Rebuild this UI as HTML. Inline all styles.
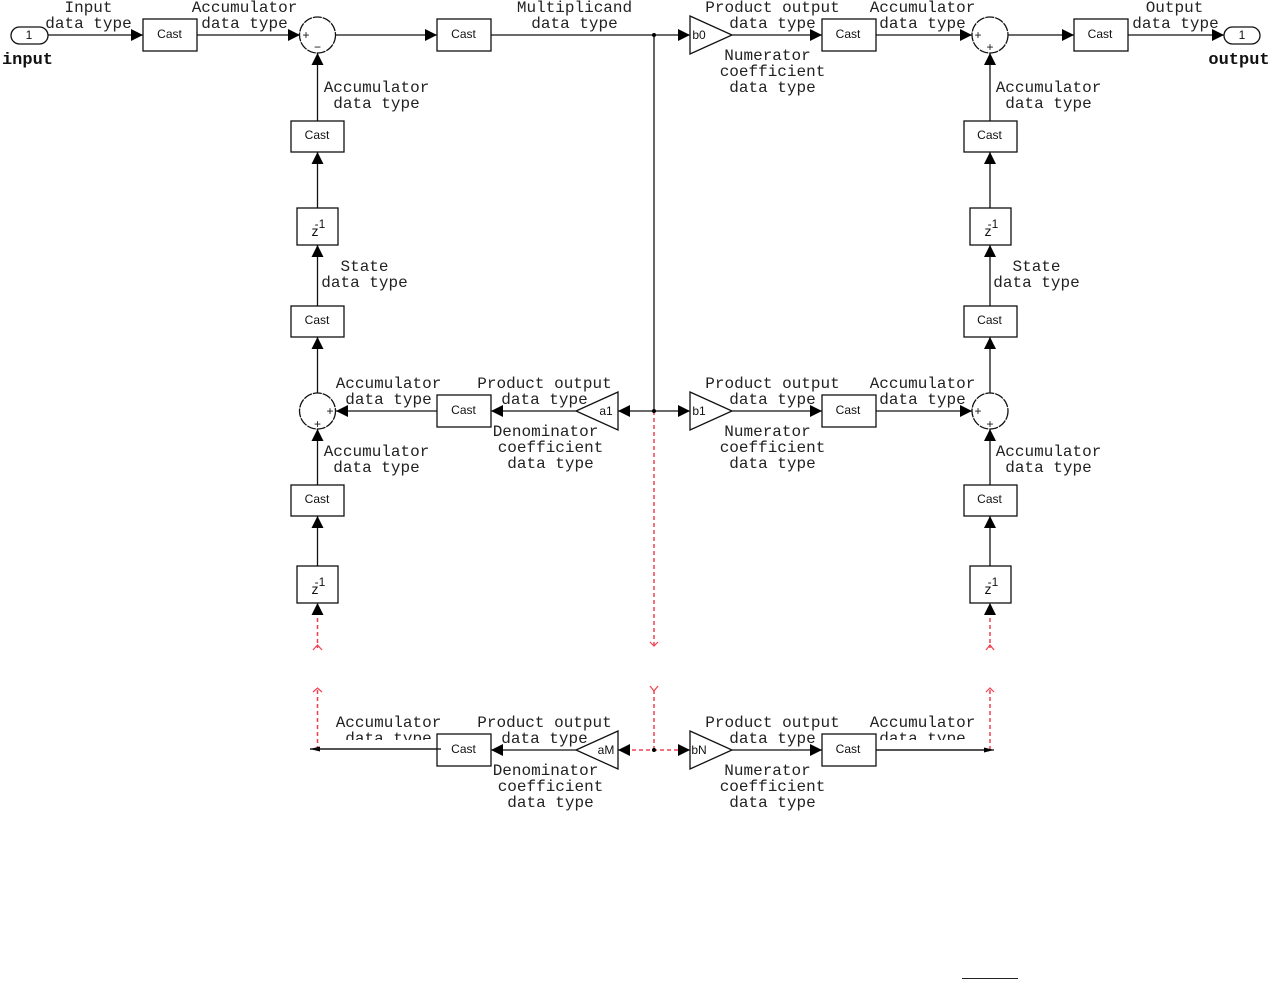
<!DOCTYPE html>
<html><head><meta charset="utf-8">
<style>
html,body{margin:0;padding:0;background:#fff;}
svg{display:block;}
.t text{font-family:"Liberation Mono",monospace;font-size:16px;fill:#222;text-anchor:middle;}
.b text{font-family:"Liberation Mono",monospace;font-size:17px;font-weight:bold;fill:#111;text-anchor:middle;}
.s text{font-family:"Liberation Sans",sans-serif;font-size:12px;fill:#111;text-anchor:middle;}
.s text.z{font-size:14px;}
.l{stroke:#111;stroke-width:1.3;fill:none;}
.box{stroke:#111;stroke-width:1.3;fill:#fff;}
.a{fill:#000;stroke:none;}
.r{stroke:#f04050;stroke-width:1.5;fill:none;stroke-dasharray:4 3;}
.rs{stroke:#f04050;stroke-width:1.2;fill:none;}
</style></head>
<body>
<svg width="1273" height="983" viewBox="0 0 1273 983" xmlns="http://www.w3.org/2000/svg">
<rect width="1273" height="983" fill="#fff"/>

<!-- Red dashed -->
<path class="r" d="M654 411V645M654 690V750M618 750H690M317.500 604V648M317.500 690V750M990 604V648M990 690V750"/>
<path class="rs" d="M650 642L654 646L658 642M650 686L654 691L658 686M313 650L317.500 645L322 650M313 692L317.500 688L322 692M986 650L990 645L994 650M986 692L990 688L994 692"/>

<!-- Black lines -->
<path class="l" d="M48 35H143M197 35H300M336 35H437M491 35H690M732 35H822M876 35H972M1008 35H1074M1128 35H1224"/>
<path class="l" d="M654 35V411M618 411H690M576 411H491M437 411H336M732 411H822M876 411H972"/>
<path class="l" d="M317.500 53V121M317.500 152V208M317.500 245V306M317.500 337V393M317.500 429V485M317.500 516V566"/>
<path class="l" d="M990 53V121M990 152V208M990 245V306M990 337V393M990 429V485M990 516V566"/>
<path class="l" d="M576 750H491M437 749H310M732 750H822M876 750H994"/>

<!-- Arrowheads -->
<path class="a" d="M131 29L143 35L131 41Z M288 29L300 35L288 41Z M425 29L437 35L425 41Z M678 29L690 35L678 41Z M810 29L822 35L810 41Z M960 29L972 35L960 41Z M1062 29L1074 35L1062 41Z M1212 29L1224 35L1212 41Z"/>
<path class="a" d="M630 405L618 411L630 417Z M503 405L491 411L503 417Z M348 405L336 411L348 417Z M678 405L690 411L678 417Z M810 405L822 411L810 417Z M960 405L972 411L960 417Z"/>
<path class="a" d="M311.500 65L317.500 53L323.500 65Z M311.500 164L317.500 152L323.500 164Z M311.500 257L317.500 245L323.500 257Z M311.500 349L317.500 337L323.500 349Z M311.500 441L317.500 429L323.500 441Z M311.500 528L317.500 516L323.500 528Z M311.500 615L317.500 603L323.500 615Z"/>
<path class="a" d="M984 65L990 53L996 65Z M984 164L990 152L996 164Z M984 257L990 245L996 257Z M984 349L990 337L996 349Z M984 441L990 429L996 441Z M984 528L990 516L996 528Z M984 615L990 603L996 615Z"/>
<path class="a" d="M630 744L618 750L630 756Z M503 744L491 750L503 756Z M678 744L690 750L678 756Z M810 744L822 750L810 756Z M310 749L320 746.500V751.500Z M994 750L984 747.500V752.500Z"/>
<circle class="a" cx="654" cy="35" r="2"/><circle class="a" cx="654" cy="411" r="2"/><circle class="a" cx="654" cy="750" r="2"/>

<!-- Ports -->
<rect class="box" x="11" y="27" width="37" height="17" rx="8.500"/>
<rect class="box" x="1224" y="27" width="36" height="17" rx="8.500"/>

<!-- Cast boxes -->
<rect class="box" x="143" y="19" width="54" height="32"/>
<rect class="box" x="437" y="19" width="54" height="32"/>
<rect class="box" x="822" y="19" width="54" height="32"/>
<rect class="box" x="1074" y="19" width="54" height="32"/>
<rect class="box" x="291" y="121" width="53" height="31"/>
<rect class="box" x="964" y="121" width="53" height="31"/>
<rect class="box" x="291" y="306" width="53" height="31"/>
<rect class="box" x="964" y="306" width="53" height="31"/>
<rect class="box" x="437" y="395" width="54" height="32"/>
<rect class="box" x="822" y="395" width="54" height="32"/>
<rect class="box" x="291" y="485" width="53" height="31"/>
<rect class="box" x="964" y="485" width="53" height="31"/>
<rect class="box" x="437" y="734" width="54" height="32"/>
<rect class="box" x="822" y="734" width="54" height="32"/>

<!-- Delay boxes -->
<rect class="box" x="297" y="208" width="41" height="37"/>
<rect class="box" x="970" y="208" width="41" height="37"/>
<rect class="box" x="297" y="566" width="41" height="37"/>
<rect class="box" x="970" y="566" width="41" height="37"/>

<!-- Sum circles -->
<circle class="box" cx="317.500" cy="35" r="18" stroke-dasharray="9 1"/>
<circle class="box" cx="990" cy="35" r="18" stroke-dasharray="9 1"/>
<circle class="box" cx="317.500" cy="411" r="18" stroke-dasharray="9 1"/>
<circle class="box" cx="990" cy="411" r="18" stroke-dasharray="9 1"/>

<!-- Gains -->
<path class="box" d="M690 16L732 35L690 54Z"/>
<path class="box" d="M690 392L732 411L690 430Z"/>
<path class="box" d="M690 731L732 750L690 769Z"/>
<path class="box" d="M618 392L576 411L618 430Z"/>
<path class="box" d="M618 731L576 750L618 769Z"/>

<!-- Stub of the line inside the lower-left Cast box -->
<path class="l" d="M437 749H441"/>

<!-- Small text -->
<g class="s">
<text x="29" y="39">1</text><text x="1242" y="39">1</text>
<text x="169.500" y="38">Cast</text><text x="463.500" y="38">Cast</text><text x="848" y="38">Cast</text><text x="1100" y="38">Cast</text>
<text x="317" y="139">Cast</text><text x="989.500" y="139">Cast</text>
<text x="317" y="324">Cast</text><text x="989.500" y="324">Cast</text>
<text x="463.500" y="414">Cast</text><text x="848" y="414">Cast</text>
<text x="317" y="503">Cast</text><text x="989.500" y="503">Cast</text>
<text x="463.500" y="753">Cast</text><text x="848" y="753">Cast</text>
<text x="699" y="39">b0</text><text x="699" y="415">b1</text><text x="699" y="754">bN</text>
<text x="606" y="415">a1</text><text x="606" y="754">aM</text>
<text class="z" x="315" y="236">z</text><text x="320" y="228">-1</text>
<text class="z" x="988" y="236">z</text><text x="993" y="228">-1</text>
<text class="z" x="315" y="594">z</text><text x="320" y="586">-1</text>
<text class="z" x="988" y="594">z</text><text x="993" y="586">-1</text>
<text x="306" y="39">+</text><text x="317.500" y="51">−</text>
<text x="978" y="39">+</text><text x="990" y="51">+</text>
<text x="330" y="415">+</text><text x="317.500" y="428">+</text>
<text x="978" y="415">+</text><text x="990" y="428">+</text>
</g>

<!-- Labels -->
<g class="b"><text x="27.500" y="64">input</text><text x="1239" y="64">output</text></g>
<g class="t" transform="translate(0.5 0)">
<text x="88" y="12">Input</text><text x="88" y="28">data type</text>
<text x="244" y="12">Accumulator</text><text x="244" y="28">data type</text>
<text x="574" y="12">Multiplicand</text><text x="574" y="28">data type</text>
<text x="772" y="12">Product output</text><text x="772" y="28">data type</text>
<text x="767" y="60">Numerator</text><text x="772" y="76">coefficient</text><text x="772" y="92">data type</text>
<text x="922" y="12">Accumulator</text><text x="922" y="28">data type</text>
<text x="1174" y="12">Output</text><text x="1175" y="28">data type</text>
<text x="376" y="92">Accumulator</text><text x="376" y="108">data type</text>
<text x="1048" y="92">Accumulator</text><text x="1048" y="108">data type</text>
<text x="364" y="271">State</text><text x="364" y="287">data type</text>
<text x="1036" y="271">State</text><text x="1036" y="287">data type</text>
<text x="388" y="388">Accumulator</text><text x="388" y="404">data type</text>
<text x="544" y="388">Product output</text><text x="544" y="404">data type</text>
<text x="545" y="436">Denominator</text><text x="550" y="452">coefficient</text><text x="550" y="468">data type</text>
<text x="376" y="456">Accumulator</text><text x="376" y="472">data type</text>
<text x="772" y="388">Product output</text><text x="772" y="404">data type</text>
<text x="767" y="436">Numerator</text><text x="772" y="452">coefficient</text><text x="772" y="468">data type</text>
<text x="922" y="388">Accumulator</text><text x="922" y="404">data type</text>
<text x="1048" y="456">Accumulator</text><text x="1048" y="472">data type</text>
<text x="388" y="727">Accumulator</text><text x="388" y="743">data type</text>
<text x="544" y="727">Product output</text><text x="544" y="743">data type</text>
<text x="545" y="775">Denominator</text><text x="550" y="791">coefficient</text><text x="550" y="807">data type</text>
<text x="772" y="727">Product output</text><text x="772" y="743">data type</text>
<text x="767" y="775">Numerator</text><text x="772" y="791">coefficient</text><text x="772" y="807">data type</text>
<text x="922" y="727">Accumulator</text><text x="922" y="743">data type</text>
</g>

<!-- Clip the truncated labels -->
<rect x="330" y="740" width="104" height="8" fill="#fff"/>
<rect x="878" y="740" width="92" height="8" fill="#fff"/>
<path class="l" d="M437 749H310M876 750H984"/>

<path d="M962 978.500H1018" stroke="#222" stroke-width="1"/>
</svg>
</body></html>
